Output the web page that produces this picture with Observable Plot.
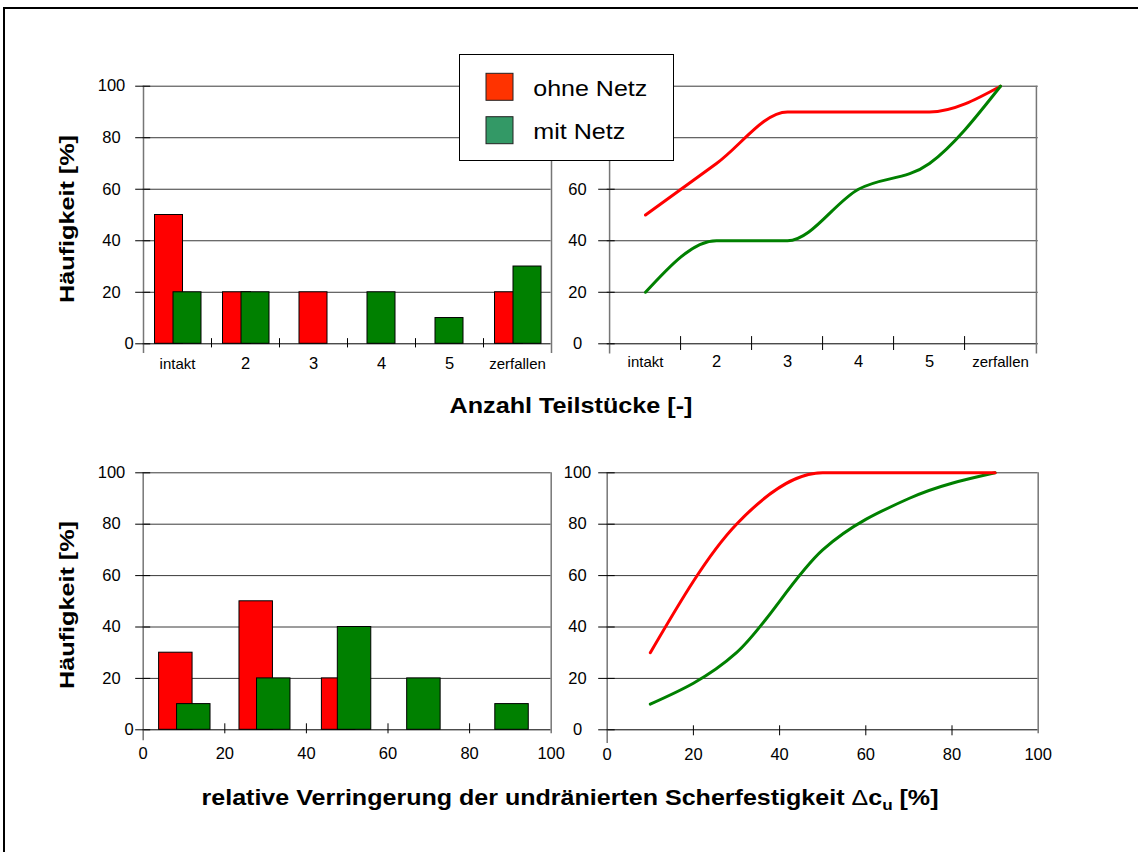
<!DOCTYPE html>
<html>
<head>
<meta charset="utf-8">
<script src="https://cdn.jsdelivr.net/npm/d3@7"></script>
<script src="https://cdn.jsdelivr.net/npm/@observablehq/plot@0.6"></script>
<style>
  html, body { margin: 0; padding: 0; background: #fff; overflow: hidden; }
  #wrap { position: relative; width: 1138px; height: 852px; font-family: "Liberation Sans", Arial, sans-serif; }
  #border { position: absolute; left: 3px; top: 7px; width: 1300px; height: 1000px; border-top: 2px solid #000; border-left: 2px solid #000; }
</style>
</head>
<body>
<div id="wrap"><div id="border"></div></div>
<script>
// ---------------- data ----------------
const seriesNames = ["ohne Netz", "mit Netz"];
const pieces = ["intakt", "2", "3", "4", "5", "zerfallen"];
const pieceOhne = [50, 20, 20, 0, 0, 20];
const pieceMit = [20, 20, 0, 20, 10, 30];
const cumPieceOhne = [50, 70, 90, 90, 90, 100];
const cumPieceMit = [20, 40, 40, 60, 70, 100];
const yTicks = [0, 20, 40, 60, 80, 100];
const dcTicks = [0, 20, 40, 60, 80, 100];
const dcBarOhneX = [8, 27.7, 47.9];
const dcBarOhne = [30, 50, 20];
const dcBarMitX = [12.4, 32, 51.8, 68.8, 90.4];
const dcBarMit = [10, 20, 40, 20, 10];
const dcCumX = [10, 30, 50, 70, 90];
const dcCumOhne = [30, 80, 100, 100, 100];
const dcCumMit = [10, 30, 70, 90, 100];

// ---------------- layout / style ----------------
const W = 1138, H = 852;
const RED = "#ff0000", GREEN = "#008000";
const LEG_RED = "#ff3300", LEG_GREEN = "#339966";
const GRID = "#3a3a3a", VLINE = "#767676";
const FONT = '"Liberation Sans", Arial, sans-serif';
const frames = {
  tl: {l: 142.7, r: 550.7, t: 85.7, b: 343.3},
  tr: {l: 606.7, r: 1037.7, t: 85.7, b: 343.3},
  bl: {l: 142.7, r: 550.7, t: 472.3, b: 729.3},
  br: {l: 606.7, r: 1037.7, t: 472.3, b: 729.3}
};
const margins = f => ({marginLeft: f.l, marginRight: W - f.r, marginTop: f.t, marginBottom: H - f.b});
const common = {
  width: W, height: H,
  style: {background: "transparent", overflow: "visible", fontFamily: FONT, color: "#000"}
};
const wrap = document.getElementById("wrap");
function mount(svg) {
  svg.style.position = "absolute";
  svg.style.left = "0px";
  svg.style.top = "0px";
  wrap.appendChild(svg);
}
const grid = () => Plot.gridY({ticks: yTicks.slice(1), stroke: GRID, strokeOpacity: 1});

function leftYAxes(tickSize, tickDx, labelPad, zeroPad, labelTicks = yTicks.slice(1)) {
  return [
    Plot.axisY({ticks: yTicks, tickSize, dx: tickDx, fill: "none", stroke: "#000", label: null}),
    Plot.axisY({ticks: labelTicks, tickSize: 0, tickPadding: labelPad, textAnchor: "middle", fontSize: 16.5, label: null}),
    Plot.axisY({ticks: [0], tickSize: 0, tickPadding: zeroPad, textAnchor: "middle", fontSize: 16.5, label: null})
  ];
}

// ---------------- top left: histogram pieces ----------------
const tlData = pieces.map((c, i) => ({c, ohne: pieceOhne[i], mit: pieceMit[i]}));
const BW = (frames.tl.r - frames.tl.l) / pieces.length;
const barStyle = {stroke: "#000", strokeWidth: 1};
mount(Plot.plot({
  ...common, ...margins(frames.tl),
  x: {type: "band", domain: pieces, padding: 0, label: null},
  y: {domain: [0, 100], label: null},
  marks: [
    grid(),
    Plot.barY(tlData.filter(d => d.ohne > 0 && d.mit > 0), {x: "c", y: "ohne", fill: RED, ...barStyle, insetLeft: 11.5, insetRight: 28.5}),
    Plot.barY(tlData.filter(d => d.ohne > 0 && !(d.mit > 0)), {x: "c", y: "ohne", fill: RED, ...barStyle, insetLeft: 20, insetRight: 20}),
    Plot.barY(tlData.filter(d => d.mit > 0 && d.ohne > 0), {x: "c", y: "mit", fill: GREEN, ...barStyle, insetLeft: 30, insetRight: 10}),
    Plot.barY(tlData.filter(d => d.mit > 0 && !(d.ohne > 0)), {x: "c", y: "mit", fill: GREEN, ...barStyle, insetLeft: 20, insetRight: 20}),
    Plot.ruleY([0], {stroke: "#000"}),
    Plot.ruleX(pieces.slice(1), {y1: 2, y2: -1.6, dx: -BW / 2, stroke: "#000"}),
    Plot.ruleX([pieces[0]], {y1: 100, y2: -3.8, dx: -BW / 2, stroke: VLINE, strokeWidth: 1.5}),
    Plot.ruleX([pieces[pieces.length - 1]], {y1: 100, y2: -3.8, dx: BW / 2, stroke: VLINE, strokeWidth: 1.5}),
    ...leftYAxes(15, 7.5, 31.7, 14.2),
    Plot.axisX({ticks: [pieces[0], pieces[5]], tickSize: 0, tickPadding: 25 - 0.71 * 15, fontSize: 15, label: null}),
    Plot.axisX({ticks: pieces.slice(1, 5), tickSize: 0, tickPadding: 25 - 0.71 * 16.5, fontSize: 16.5, label: null})
  ]
}));

// ---------------- top right: cumulative pieces ----------------
const trData = pieces.map((c, i) => ({c, ohne: cumPieceOhne[i], mit: cumPieceMit[i]}));
const STEP = (frames.tr.r - frames.tr.l) / pieces.length;
mount(Plot.plot({
  ...common, ...margins(frames.tr),
  x: {type: "point", domain: pieces, padding: 0.5, label: null},
  y: {domain: [0, 100], label: null},
  marks: [
    grid(),
    Plot.ruleY([0], {stroke: "#000"}),
    Plot.ruleX(pieces.slice(1), {y1: 2.8, y2: -2.6, dx: -STEP / 2, stroke: "#000"}),
    Plot.ruleX([pieces[0]], {y1: 100, y2: -4, dx: -STEP / 2, stroke: VLINE, strokeWidth: 1.5}),
    Plot.ruleX([pieces[pieces.length - 1]], {y1: 100, y2: -4, dx: STEP / 2, stroke: VLINE, strokeWidth: 1.5}),
    Plot.line(trData, {x: "c", y: "ohne", stroke: RED, strokeWidth: 3, curve: "monotone-x"}),
    Plot.line(trData, {x: "c", y: "mit", stroke: GREEN, strokeWidth: 3, curve: "monotone-x"}),
    // labels 80 and 100 lie under the legend box in the reference
    ...leftYAxes(16.5, 8, 29.7, 29.7, [20, 40, 60]),
    Plot.axisX({ticks: [pieces[0], pieces[5]], tickSize: 0, tickPadding: 23.4 - 0.71 * 15, fontSize: 15, label: null}),
    Plot.axisX({ticks: pieces.slice(1, 5), tickSize: 0, tickPadding: 23.4 - 0.71 * 16.5, fontSize: 16.5, label: null})
  ]
}));

// ---------------- bottom left: histogram delta c_u ----------------
const HALF = 4.1;
const blOhne = dcBarOhneX.map((x, i) => ({x, v: dcBarOhne[i]}));
const blMit = dcBarMitX.map((x, i) => ({x, v: dcBarMit[i]}));
mount(Plot.plot({
  ...common, ...margins(frames.bl),
  x: {domain: [0, 100], label: null},
  y: {domain: [0, 100], label: null},
  marks: [
    grid(),
    Plot.rect(blOhne, {x1: d => d.x - HALF, x2: d => d.x + HALF, y1: () => 0, y2: "v", fill: RED, ...barStyle}),
    Plot.rect(blMit, {x1: d => d.x - HALF, x2: d => d.x + HALF, y1: () => 0, y2: "v", fill: GREEN, ...barStyle}),
    Plot.ruleY([0], {stroke: "#000"}),
    Plot.ruleX([0], {y1: 100, y2: -4.3, stroke: VLINE, strokeWidth: 1.5}),
    Plot.ruleX([100], {y1: 100, y2: -1.5, stroke: VLINE, strokeWidth: 1.5}),
    Plot.axisX({ticks: dcTicks.slice(1, 5), tickSize: 10, dy: -6, fill: "none", stroke: "#000", label: null}),
    Plot.axisX({ticks: dcTicks, tickSize: 0, tickPadding: 17.5, fontSize: 16.5, label: null}),
    ...leftYAxes(15, 7.5, 31.7, 14.2)
  ]
}));

// ---------------- bottom right: cumulative delta c_u ----------------
const brData = dcCumX.map((x, i) => ({x, ohne: dcCumOhne[i], mit: dcCumMit[i]}));
mount(Plot.plot({
  ...common, ...margins(frames.br),
  x: {domain: [0, 100], label: null},
  y: {domain: [0, 100], label: null},
  marks: [
    grid(),
    Plot.ruleY([0], {stroke: "#000"}),
    Plot.ruleX([0], {y1: 100, y2: -5.3, stroke: VLINE, strokeWidth: 1.5}),
    Plot.ruleX([100], {y1: 100, y2: -1.5, stroke: VLINE, strokeWidth: 1.5}),
    Plot.axisX({ticks: dcTicks.slice(1, 5), tickSize: 10, dy: -4, fill: "none", stroke: "#000", label: null}),
    Plot.axisX({ticks: dcTicks, tickSize: 0, tickPadding: 18.5, fontSize: 16.5, label: null}),
    Plot.line(brData, {x: "x", y: "mit", stroke: GREEN, strokeWidth: 3, curve: "monotone-x"}),
    Plot.line(brData, {x: "x", y: "ohne", stroke: RED, strokeWidth: 3, curve: "monotone-x"}),
    ...leftYAxes(16.5, 8, 29.7, 29.7)
  ]
}));

// ---------------- titles and legend (overlay) ----------------
const ov = d3.select(wrap).append("svg")
  .attr("width", W).attr("height", H)
  .style("position", "absolute").style("left", "0px").style("top", "0px")
  .style("font-family", FONT);

function yTitle(cy) {
  ov.append("text")
    .attr("transform", `translate(73.5,${cy}) rotate(-90)`)
    .attr("text-anchor", "middle")
    .attr("font-weight", "bold").attr("font-size", 20)
    .attr("textLength", 168).attr("lengthAdjust", "spacingAndGlyphs")
    .text("Häufigkeit [%]");
}
yTitle(219);
yTitle(605);

ov.append("text")
  .attr("x", 571).attr("y", 412.7).attr("text-anchor", "middle")
  .attr("font-weight", "bold").attr("font-size", 22.5)
  .attr("textLength", 243).attr("lengthAdjust", "spacingAndGlyphs")
  .text("Anzahl Teilstücke [-]");

const bt = ov.append("text")
  .attr("x", 570).attr("y", 805).attr("text-anchor", "middle")
  .attr("font-weight", "bold").attr("font-size", 22)
  .attr("textLength", 737).attr("lengthAdjust", "spacingAndGlyphs");
bt.append("tspan").text("relative Verringerung der undränierten Scherfestigkeit ");
bt.append("tspan").attr("font-weight", "normal").text("Δ");
bt.append("tspan").text("c");
bt.append("tspan").attr("font-size", 15).attr("dy", 5).text("u");
bt.append("tspan").attr("dy", -5).text(" [%]");

// legend
const leg = ov.append("g");
leg.append("rect").attr("x", 459.5).attr("y", 54.5).attr("width", 214).attr("height", 106)
  .attr("fill", "#fff").attr("stroke", "#000").attr("stroke-width", 1);
const legColors = [LEG_RED, LEG_GREEN];
const legSwatchY = [73.3, 116.7];
const legTextY = [96, 139.3];
const legTextLen = [114, 92];
seriesNames.forEach((name, i) => {
  leg.append("rect").attr("x", 486).attr("y", legSwatchY[i]).attr("width", 27).attr("height", 27)
    .attr("fill", legColors[i]).attr("stroke", "#222").attr("stroke-width", 1);
  leg.append("text").attr("x", 533.3).attr("y", legTextY[i])
    .attr("font-size", 22)
    .attr("textLength", legTextLen[i]).attr("lengthAdjust", "spacingAndGlyphs")
    .text(name);
});
</script>
</body>
</html>
